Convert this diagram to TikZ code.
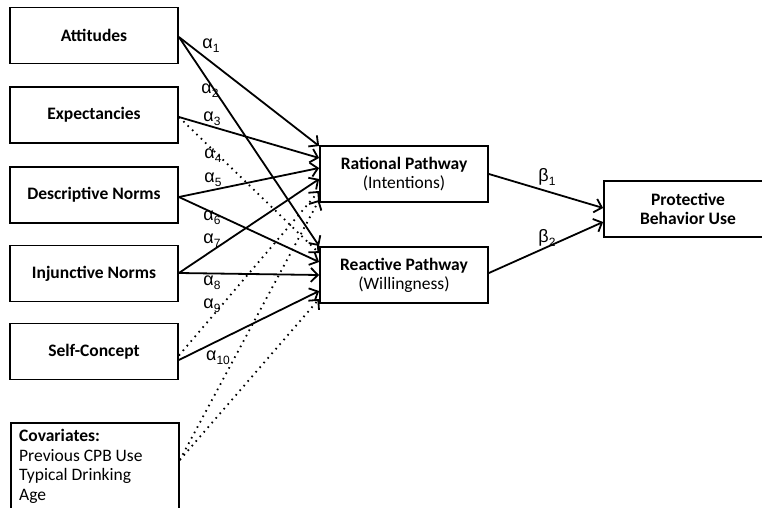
\documentclass[tikz,border=0pt]{standalone}
\usepackage{fontspec}
\setmainfont{Carlito}
\newfontfamily\greekfont{Liberation Sans}
\usetikzlibrary{arrows.meta}

\newcommand{\coef}[2]{{\fontsize{18}{18}\selectfont\greekfont #1}\raisebox{-0.5ex}{\fontsize{12}{12}\selectfont\greekfont #2}}

\begin{document}
\fontsize{17.5}{19}\selectfont
\begin{tikzpicture}[x=1pt,y=-1pt,
  inbox/.style={draw,line width=1.8pt,minimum width=168pt,minimum height=56pt,align=center},
  arr/.style={line width=1.8pt,-{Straight Barb[length=7pt,width=14pt]}},
  dotarr/.style={arr,dash pattern=on 1.6pt off 4.5pt}]
\useasboundingbox (0,0) rectangle (762,508);
\clip (0,0) rectangle (762,508);

% predictors
\node[inbox] (att) at (94,35.5) {\bfseries Attitudes};
\node[inbox] (exp) at (94,115) {\bfseries Expectancies};
\node[inbox] (des) at (94,195) {\bfseries Descriptive Norms};
\node[inbox] (inj) at (94,273.5) {\bfseries Injunctive Norms};
\node[inbox] (sel) at (94,351.5) {\bfseries Self-Concept};
\node[draw,line width=1.8pt,anchor=north west,minimum width=168pt,minimum height=110pt] (cov) at (10,422) {};
\node[anchor=north west,align=left,inner xsep=9pt,inner ysep=7pt,font=\linespread{1.03}\selectfont] (covtxt) at (cov.north west)
  {\bfseries Covariates:\\Previous CPB Use\\Typical Drinking\\Age};

% pathways
\node[inbox] (rat) at (404,174) {\bfseries Rational Pathway\\(Intentions)};
\node[inbox] (rea) at (404,275) {\bfseries Reactive Pathway\\(Willingness)};
\node[inbox] (pro) at (688,209) {\bfseries Protective\\\bfseries Behavior Use};

% alpha paths
\foreach \s/\dy/\t in {att/-1.5/28, exp/-2/16, des/-2/6, inj/0.5/-5} {
\draw[arr] ([yshift=\dy pt]\s.east) -- ([yshift=\t pt]rat.west);
}
\foreach \s/\dy/\t in {att/-1.5/29, des/-2/13, inj/0.5/0, sel/-8.5/-16} {
\draw[arr] ([yshift=\dy pt]\s.east) -- ([yshift=\t pt]rea.west);
}
\draw[dotarr] ([yshift=-2pt]exp.east) -- ([yshift=22pt]rea.west);
\draw[dotarr] ([yshift=-4pt]sel.east) -- ([yshift=-17pt]rat.west);
\draw[dotarr] ([yshift=-38pt]cov.north east) -- ([yshift=-26pt]rat.west);
\draw[dotarr] ([yshift=-38pt]cov.north east) -- ([yshift=-24pt]rea.west);

% beta paths
\draw[arr] (rat.east) -- ([yshift=1pt]pro.west);
\draw[arr] ([yshift=2pt]rea.east) -- ([yshift=-13pt]pro.west);

% labels
\foreach \n/\x/\y in {1/211/46, 2/210/91, 3/212/119, 4/213/156, 5/213/180,
  6/212/218, 7/212/241, 8/212/283, 9/212/306, 10/218/358} {
\node (a\n) at (\x,\y) {\coef{α}{\n}};
}
\node (b1) at (547,177) {\coef{β}{1}};
\node (b2) at (547,238) {\coef{β}{2}};
\end{tikzpicture}
\end{document}
